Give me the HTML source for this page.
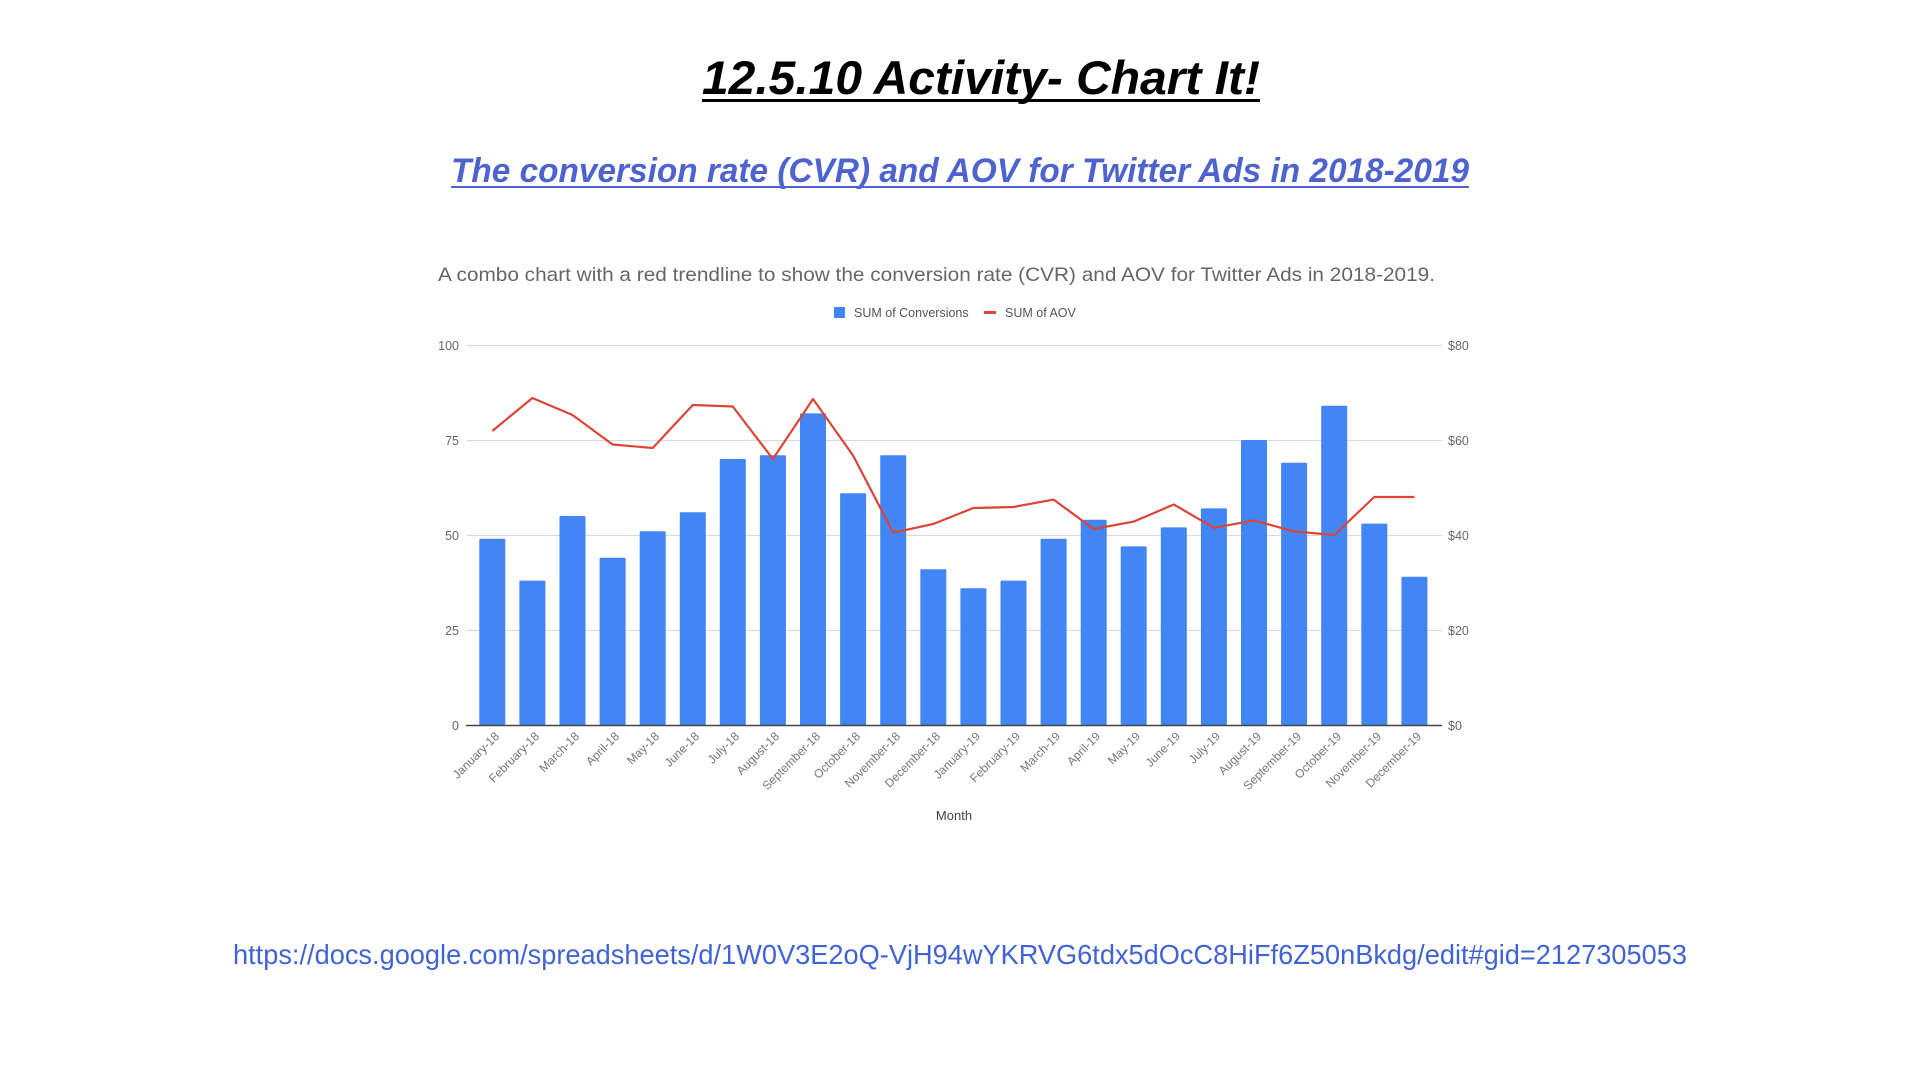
<!DOCTYPE html>
<html><head><meta charset="utf-8"><style>
html,body{margin:0;padding:0;background:#fff;width:1920px;height:1080px;overflow:hidden}
svg{display:block}
</style></head><body>
<svg width="1920" height="1080" xmlns="http://www.w3.org/2000/svg" font-family="Liberation Sans, sans-serif">
<text x="981" y="94" text-anchor="middle" font-size="47" font-weight="bold" font-style="italic" textLength="558" lengthAdjust="spacingAndGlyphs">12.5.10 Activity- Chart It!</text>
<rect x="702" y="99" width="558" height="3" fill="#000"/>
<text x="960" y="182" text-anchor="middle" font-size="34" font-weight="bold" font-style="italic" fill="#4f63cf" textLength="1018" lengthAdjust="spacingAndGlyphs">The conversion rate (CVR) and AOV for Twitter Ads in 2018-2019</text>
<rect x="451" y="186" width="1018" height="2" fill="#4f63cf"/>
<text x="438" y="281" font-size="19.5" fill="#666" textLength="997" lengthAdjust="spacingAndGlyphs">A combo chart with a red trendline to show the conversion rate (CVR) and AOV for Twitter Ads in 2018-2019.</text>
<rect x="834" y="307" width="11" height="11" fill="#4285f4"/>
<text x="854" y="317" font-size="12.5" fill="#555">SUM of Conversions</text>
<rect x="984" y="311" width="12" height="3" fill="#db4437"/>
<text x="1005" y="317" font-size="12.5" fill="#555">SUM of AOV</text>
<g stroke="#d9d9d9" stroke-width="1">
<line x1="466" y1="345.5" x2="1442" y2="345.5"/>
<line x1="466" y1="440.5" x2="1442" y2="440.5"/>
<line x1="466" y1="535.5" x2="1442" y2="535.5"/>
<line x1="466" y1="630.5" x2="1442" y2="630.5"/>
</g>
<g font-size="12.5" fill="#666" text-anchor="end">
<text x="459" y="350">100</text><text x="459" y="445">75</text><text x="459" y="540">50</text><text x="459" y="635">25</text><text x="459" y="730">0</text>
</g>
<g font-size="12.5" fill="#666">
<text x="1448" y="350">$80</text><text x="1448" y="445">$60</text><text x="1448" y="540">$40</text><text x="1448" y="635">$20</text><text x="1448" y="730">$0</text>
</g>
<g fill="#4285f4">
<rect x="479.3" y="538.8" width="26" height="186.2" rx="1"/>
<rect x="519.4" y="580.6" width="26" height="144.4" rx="1"/>
<rect x="559.5" y="516" width="26" height="209" rx="1"/>
<rect x="599.6" y="557.8" width="26" height="167.2" rx="1"/>
<rect x="639.7" y="531.2" width="26" height="193.8" rx="1"/>
<rect x="679.8" y="512.2" width="26" height="212.8" rx="1"/>
<rect x="719.8" y="459" width="26" height="266" rx="1"/>
<rect x="759.9" y="455.2" width="26" height="269.8" rx="1"/>
<rect x="800" y="413.4" width="26" height="311.6" rx="1"/>
<rect x="840.1" y="493.2" width="26" height="231.8" rx="1"/>
<rect x="880.2" y="455.2" width="26" height="269.8" rx="1"/>
<rect x="920.3" y="569.2" width="26" height="155.8" rx="1"/>
<rect x="960.4" y="588.2" width="26" height="136.8" rx="1"/>
<rect x="1000.5" y="580.6" width="26" height="144.4" rx="1"/>
<rect x="1040.6" y="538.8" width="26" height="186.2" rx="1"/>
<rect x="1080.7" y="519.8" width="26" height="205.2" rx="1"/>
<rect x="1120.7" y="546.4" width="26" height="178.6" rx="1"/>
<rect x="1160.8" y="527.4" width="26" height="197.6" rx="1"/>
<rect x="1200.9" y="508.4" width="26" height="216.6" rx="1"/>
<rect x="1241" y="440" width="26" height="285" rx="1"/>
<rect x="1281.1" y="462.8" width="26" height="262.2" rx="1"/>
<rect x="1321.2" y="405.8" width="26" height="319.2" rx="1"/>
<rect x="1361.3" y="523.6" width="26" height="201.4" rx="1"/>
<rect x="1401.4" y="576.8" width="26" height="148.2" rx="1"/>
</g>
<line x1="466" y1="725.5" x2="1442" y2="725.5" stroke="#444" stroke-width="1.5"/>
<polyline fill="none" stroke="#db4437" stroke-width="2.2" stroke-linejoin="round" points="492.3,431 532.4,398 572.5,415 612.6,444.5 652.7,448 692.8,405 732.8,406.5 772.9,459 813,399 853.1,455.5 893.2,532.7 933.3,524 973.4,508 1013.5,507 1053.6,499.6 1093.7,529 1133.7,521.6 1173.8,504.5 1213.9,527.8 1254,520.4 1294.1,531.4 1334.2,535 1374.3,497 1414.4,497"/>
<g font-size="12" fill="#777" text-anchor="end">
<text transform="translate(500,737) rotate(-45)">January-18</text>
<text transform="translate(540,737) rotate(-45)">February-18</text>
<text transform="translate(580,737) rotate(-45)">March-18</text>
<text transform="translate(620,737) rotate(-45)">April-18</text>
<text transform="translate(660,737) rotate(-45)">May-18</text>
<text transform="translate(700,737) rotate(-45)">June-18</text>
<text transform="translate(740,737) rotate(-45)">July-18</text>
<text transform="translate(780,737) rotate(-45)">August-18</text>
<text transform="translate(821,737) rotate(-45)">September-18</text>
<text transform="translate(861,737) rotate(-45)">October-18</text>
<text transform="translate(901,737) rotate(-45)">November-18</text>
<text transform="translate(941,737) rotate(-45)">December-18</text>
<text transform="translate(981,737) rotate(-45)">January-19</text>
<text transform="translate(1021,737) rotate(-45)">February-19</text>
<text transform="translate(1061,737) rotate(-45)">March-19</text>
<text transform="translate(1101,737) rotate(-45)">April-19</text>
<text transform="translate(1141,737) rotate(-45)">May-19</text>
<text transform="translate(1181,737) rotate(-45)">June-19</text>
<text transform="translate(1221,737) rotate(-45)">July-19</text>
<text transform="translate(1262,737) rotate(-45)">August-19</text>
<text transform="translate(1302,737) rotate(-45)">September-19</text>
<text transform="translate(1342,737) rotate(-45)">October-19</text>
<text transform="translate(1382,737) rotate(-45)">November-19</text>
<text transform="translate(1422,737) rotate(-45)">December-19</text>
</g>
<text x="954" y="820" text-anchor="middle" font-size="13" fill="#444">Month</text>
<text x="233" y="964" font-size="28" fill="#4263d6" textLength="1454" lengthAdjust="spacingAndGlyphs">https://docs.google.com/spreadsheets/d/1W0V3E2oQ-VjH94wYKRVG6tdx5dOcC8HiFf6Z50nBkdg/edit#gid=2127305053</text>
</svg>
</body></html>
